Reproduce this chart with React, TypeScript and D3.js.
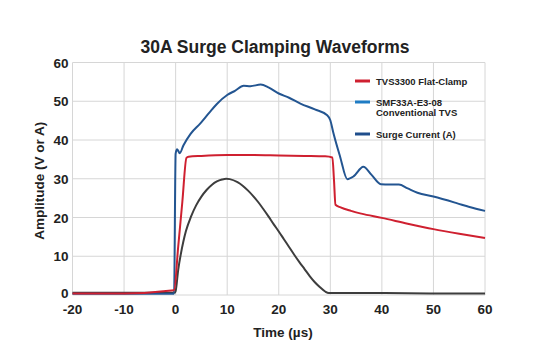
import React, { useEffect, useRef } from 'react'
import * as d3 from 'd3'

// TVS3300 Flat-Clamp (V)
const flatClampT = [-20, -10, -0.3, 0.5, 1.3, 2.1, 2.5, 5, 10, 15, 20, 25, 29, 30.4, 30.7, 31, 32, 34, 36, 40, 45, 50, 55, 60]
const flatClampV = [0.4, 0.4, 1.2, 12.5, 24, 35.4, 35.7, 35.9, 36.1, 36.1, 36.0, 35.9, 35.8, 35.5, 30, 23.3, 22.6, 21.7, 21.0, 19.9, 18.4, 17.0, 15.8, 14.7]

// SMF33A-E3-08 Conventional TVS (V)
const convT = [-20, -10, -0.3, 0, 0.3, 0.8, 1.5, 2.9, 4.8, 6.5, 8, 10, 11.5, 13.2, 14.5, 16.5, 18, 20, 22, 24.2, 27, 29.4, 30, 30.6, 31.9, 33.3, 34.5, 36.4, 38, 39.8, 41.5, 43.3, 45, 46.9, 50, 54.5, 57, 60]
const convV = [0.3, 0.3, 0.3, 36.5, 37.6, 36.6, 38.6, 41.6, 44.3, 47, 49.3, 51.6, 52.7, 54, 53.9, 54.3, 53.6, 52, 50.9, 49.4, 47.9, 46.4, 45.1, 41.8, 35.7, 29.9, 30.6, 33.1, 31, 28.6, 28.5, 28.5, 27.5, 26.4, 25.4, 23.7, 22.7, 21.7]

// Surge Current (A)
const surgeT = [-20, -10, -0.2, 0, 0.5, 1, 1.5, 2, 3, 4, 5, 6, 7, 8, 9, 9.8, 10.5, 12, 13, 14, 15, 16, 17, 18, 19, 20, 21, 22, 23, 24, 25, 26, 27, 28, 29, 29.7, 35, 40, 50, 60]
const surgeA = [0.6, 0.6, 0.6, 1, 6.5, 10.5, 13.8, 16.5, 20.3, 23.2, 25.4, 27.1, 28.4, 29.3, 29.8, 30, 29.9, 29.1, 28.2, 27.0, 25.6, 24.0, 22.2, 20.3, 18.3, 16.4, 14.4, 12.4, 10.4, 8.5, 6.7, 4.9, 3.3, 2.0, 0.9, 0.5, 0.5, 0.5, 0.4, 0.4]

const xTicks = [-20, -10, 0, 10, 20, 30, 40, 50, 60]
const yTicks = [0, 10, 20, 30, 40, 50, 60]

const App: React.FC = () => {
    const svgRef = useRef<SVGSVGElement | null>(null)

    useEffect(() => {
        if (!svgRef.current) return
        const width = 550
        const height = 354
        const margin = { top: 62.5, right: 65, bottom: 59, left: 72.5 }
        const font = 'Liberation Sans, Arial, Helvetica, sans-serif'

        const svg = d3.select(svgRef.current)
        svg.selectAll('*').remove()

        const x = d3.scaleLinear().domain([-20, 60]).range([margin.left, width - margin.right])
        const y = d3.scaleLinear().domain([0, 60]).range([height - margin.bottom, margin.top])

        // grid
        const grid = svg.append('g').attr('stroke', '#d6d6d6').attr('stroke-width', 1)
        xTicks.forEach((t) => {
            grid.append('line')
                .attr('x1', x(t)).attr('x2', x(t))
                .attr('y1', y(60)).attr('y2', y(0))
        })
        yTicks.forEach((t) => {
            grid.append('line')
                .attr('x1', x(-20)).attr('x2', x(60))
                .attr('y1', y(t)).attr('y2', y(t))
        })

        // tick labels
        svg.append('g')
            .selectAll('text')
            .data(xTicks)
            .join('text')
            .attr('x', (d) => x(d))
            .attr('y', y(0) + 19)
            .attr('text-anchor', 'middle')
            .attr('font-family', font)
            .attr('font-weight', 'bold')
            .attr('font-size', 13.5)
            .attr('fill', '#222')
            .text((d) => d)

        svg.append('g')
            .selectAll('text')
            .data(yTicks)
            .join('text')
            .attr('x', x(-20) - 4)
            .attr('y', (d) => (d === 0 ? y(d) + 3 : y(d) + 5))
            .attr('text-anchor', 'end')
            .attr('font-family', font)
            .attr('font-weight', 'bold')
            .attr('font-size', 13.5)
            .attr('fill', '#222')
            .text((d) => d)

        // titles
        svg.append('text')
            .attr('x', 275).attr('y', 53)
            .attr('text-anchor', 'middle')
            .attr('font-family', font).attr('font-weight', 'bold')
            .attr('font-size', 17.5).attr('fill', '#222')
            .text('30A Surge Clamping Waveforms')

        svg.append('text')
            .attr('x', 283).attr('y', 337)
            .attr('text-anchor', 'middle')
            .attr('font-family', font).attr('font-weight', 'bold')
            .attr('font-size', 13.5).attr('fill', '#222')
            .text('Time (µs)')

        svg.append('text')
            .attr('transform', `translate(44,${(y(0) + y(60)) / 2 + 2}) rotate(-90)`)
            .attr('text-anchor', 'middle')
            .attr('font-family', font).attr('font-weight', 'bold')
            .attr('font-size', 13.5).attr('fill', '#222')
            .text('Amplitude (V or A)')

        // series
        const series = [
            { t: surgeT, v: surgeA, color: '#3d3d3d' },
            { t: convT, v: convV, color: '#235591' },
            { t: flatClampT, v: flatClampV, color: '#cf2030' },
        ]
        const line = d3
            .line<[number, number]>()
            .x((d) => x(d[0]))
            .y((d) => y(d[1]))
            .curve(d3.curveMonotoneX)

        series.forEach((s) => {
            const pts = s.t.map((t, i) => [t, s.v[i]] as [number, number])
            svg.append('path')
                .datum(pts)
                .attr('fill', 'none')
                .attr('stroke', s.color)
                .attr('stroke-width', 2)
                .attr('stroke-linejoin', 'round')
                .attr('d', line)
        })

        // legend
        const legend = [
            { lines: ['TVS3300 Flat-Clamp'], color: '#cf2030', y: 81 },
            { lines: ['SMF33A-E3-08', 'Conventional TVS'], color: '#1f7cc4', y: 102 },
            { lines: ['Surge Current (A)'], color: '#1f4e8c', y: 134 },
        ]
        legend.forEach((l) => {
            svg.append('line')
                .attr('x1', 355).attr('x2', 370)
                .attr('y1', l.y).attr('y2', l.y)
                .attr('stroke', l.color).attr('stroke-width', 3)
            l.lines.forEach((txt, i) => {
                svg.append('text')
                    .attr('x', 376).attr('y', l.y + 3.5 + i * 10.5)
                    .attr('font-family', font).attr('font-weight', 'bold')
                    .attr('font-size', 9.5).attr('fill', '#222')
                    .text(txt)
            })
        })
    }, [])

    return (
        <svg
            ref={svgRef}
            width={550}
            height={354}
            style={{ position: 'absolute', left: 0, top: 0, background: '#fff' }}
        ></svg>
    )
}

export default App
